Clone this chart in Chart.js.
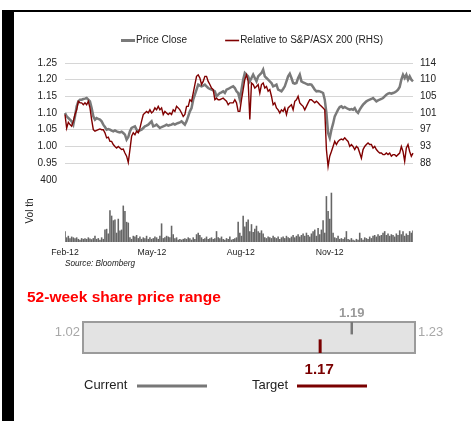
<!DOCTYPE html>
<html><head><meta charset="utf-8">
<script src="https://cdn.jsdelivr.net/npm/chart.js@4.4.1/dist/chart.umd.min.js"></script>
<style>
html,body{margin:0;padding:0;background:#fff;}
body{width:471px;height:421px;position:relative;overflow:hidden;font-family:"Liberation Sans",Arial,sans-serif;}
#c1{position:absolute;left:0;top:0;}
#c2{position:absolute;left:0;top:280px;}
.blk{position:absolute;background:#000;}
#h{position:absolute;left:27px;top:289px;font-weight:bold;font-size:15.5px;line-height:16px;color:#ff0000;white-space:nowrap;}
</style></head><body>
<canvas id="c1" width="471" height="280"></canvas>
<canvas id="c2" width="471" height="141"></canvas>
<div class="blk" style="left:2px;top:10px;width:12px;height:411px"></div>
<div class="blk" style="left:2px;top:10px;width:469px;height:2px"></div>
<div id="h">52-week share price range</div>
<script>
// ---- data ----
const sampleStepDays = 1.724;           // spacing of plotted samples, calendar days from 1 Feb 2012
const monthTickDays = [0, 90, 182, 274];
const monthTickLabels = ['Feb-12', 'May-12', 'Aug-12', 'Nov-12'];
const priceTicks = [0.95, 1.00, 1.05, 1.10, 1.15, 1.20, 1.25];
const rhsTickLabels = ['88', '93', '97', '101', '105', '110', '114'];
const volumeTicks = [400];

const price = [
1.100,1.090,1.085,1.080,1.075,1.065,1.090,1.120,1.135,1.140,
1.140,1.142,1.143,1.145,1.140,1.135,1.115,1.090,1.080,1.085,
1.082,1.080,1.075,1.065,1.058,1.050,1.052,1.050,1.047,1.045,
1.048,1.045,1.043,1.042,1.044,1.040,1.035,1.020,1.028,1.045,
1.055,1.058,1.060,1.050,1.045,1.048,1.050,1.055,1.060,1.062,
1.065,1.070,1.075,1.060,1.062,1.065,1.060,1.055,1.058,1.060,
1.062,1.065,1.062,1.064,1.065,1.068,1.065,1.068,1.070,1.072,
1.075,1.070,1.065,1.075,1.090,1.105,1.115,1.140,1.155,1.170,
1.185,1.182,1.180,1.182,1.185,1.180,1.175,1.172,1.170,1.168,
1.165,1.150,1.155,1.160,1.162,1.165,1.160,1.170,1.172,1.175,
1.178,1.180,1.175,1.165,1.160,1.140,1.170,1.200,1.220,1.215,
1.210,1.195,1.205,1.215,1.205,1.195,1.210,1.215,1.220,1.230,
1.210,1.205,1.200,1.195,1.190,1.180,1.182,1.185,1.170,1.168,
1.165,1.172,1.180,1.195,1.210,1.218,1.205,1.190,1.188,1.190,
1.205,1.215,1.195,1.192,1.190,1.187,1.185,1.186,1.185,1.178,
1.170,1.165,1.166,1.165,1.163,1.160,1.140,1.100,1.040,1.025,
1.050,1.068,1.090,1.100,1.110,1.118,1.120,1.115,1.118,1.115,
1.112,1.110,1.112,1.110,1.115,1.105,1.100,1.110,1.118,1.125,
1.130,1.135,1.138,1.140,1.142,1.145,1.140,1.135,1.138,1.140,
1.142,1.145,1.150,1.155,1.158,1.160,1.158,1.160,1.162,1.165,
1.170,1.178,1.200,1.215,1.205,1.215,1.200,1.210,1.200,1.195
];
const relative = [
100.7,97.2,98.7,98.1,97.7,99.0,100.7,101.9,104.1,103.7,
103.7,103.2,103.7,103.2,104.1,102.4,99.4,96.8,96.4,96.6,
96.8,97.0,96.8,96.8,96.0,94.7,94.9,93.8,93.8,93.0,
92.5,92.1,92.5,92.1,91.7,91.8,90.8,90.0,88.4,91.7,
95.1,96.0,95.5,96.4,96.0,97.2,99.0,100.7,101.1,101.5,
101.1,101.9,101.1,101.5,102.4,101.9,102.8,101.9,102.4,100.7,
101.5,101.1,100.7,101.1,100.7,101.9,101.5,102.8,102.4,101.9,
101.1,100.2,100.7,102.8,102.8,104.5,104.1,106.2,108.4,110.5,
110.9,110.1,108.4,109.2,110.5,110.5,109.2,108.4,107.5,107.1,
104.5,104.9,104.5,104.5,104.7,104.9,104.5,104.1,103.2,103.7,
103.7,103.7,104.5,103.7,101.5,101.5,104.5,107.1,109.7,110.9,
109.2,99.4,108.8,108.4,107.5,107.9,108.4,106.2,108.4,108.8,
107.5,107.9,106.7,107.1,105.4,103.2,103.7,102.4,101.9,101.1,
101.9,101.5,102.4,100.7,102.4,102.8,103.2,101.9,104.1,104.5,
105.4,103.7,103.2,102.8,101.9,102.8,103.7,104.5,104.5,104.1,
103.7,104.1,103.7,103.2,102.8,102.4,101.9,91.7,87.4,90.0,
91.2,92.5,93.8,93.0,93.8,94.2,94.4,94.2,94.7,94.2,
93.8,92.5,93.0,92.5,91.7,92.5,92.1,90.8,89.5,91.7,
92.5,93.0,93.4,93.0,93.0,92.1,92.5,91.7,91.2,90.8,
90.8,90.4,90.4,90.8,90.4,90.8,90.0,90.4,90.4,90.0,
90.4,90.8,92.5,91.2,88.7,92.1,93.0,91.2,90.0,90.8
];
const volume = [
70,30,40,25,35,30,25,30,20,15,
25,20,25,20,30,22,18,25,40,20,
25,15,30,20,80,85,55,205,170,140,
145,60,150,75,80,235,200,130,125,30,
20,40,35,45,25,35,20,30,25,40,
20,30,20,25,35,30,20,40,120,25,
30,40,35,30,105,50,25,30,15,20,
15,20,25,20,30,25,15,30,20,50,
60,45,30,20,25,35,20,25,30,20,
25,70,30,25,35,20,15,25,20,35,
15,20,25,30,130,60,40,170,100,130,
145,70,115,65,85,105,70,60,75,55,
30,25,35,30,25,40,30,25,35,20,
30,35,25,40,30,25,35,45,30,40,
50,35,45,55,40,60,45,35,55,70,
80,40,90,50,80,140,60,296,200,150,
318,60,30,25,40,20,25,20,30,70,
20,15,25,15,10,20,15,60,25,15,
30,25,20,35,25,40,45,35,50,40,
45,60,70,45,55,40,50,45,35,55,
45,75,50,70,40,55,45,70,60,75
];

const rangeLow = 1.02;
const rangeHigh = 1.23;
const currentPrice = 1.19;
const targetPrice = 1.17;

// ---- axis ranges ----
const priceMin = 0.899, priceMax = 1.25;
const rhsMin = 83.88, rhsMax = 113.93;
const toRhs = p => rhsMin + (p - priceMin) / (priceMax - priceMin) * (rhsMax - rhsMin);

const days = price.map((_, i) => +(i * sampleStepDays).toFixed(3));
const FONT = '"Liberation Sans", Arial, sans-serif';
Chart.defaults.font.family = FONT;
Chart.defaults.color = '#222';

const topLegend = {
  id: 'topLegend',
  afterDraw(chart, args, opts) {
    const ctx = chart.ctx;
    ctx.save();
    ctx.font = '10px ' + FONT;
    ctx.textBaseline = 'middle';
    ctx.textAlign = 'left';
    let x = opts.x;
    chart.data.datasets.forEach(ds => {
      if (!ds.label) return;
      ctx.strokeStyle = ds.borderColor;
      ctx.lineWidth = ds.legendLineWidth || ds.borderWidth;
      ctx.beginPath(); ctx.moveTo(x, opts.y); ctx.lineTo(x + 14, opts.y); ctx.stroke();
      ctx.fillStyle = '#222';
      ctx.fillText(ds.label, x + 15, opts.y);
      x += 15 + ctx.measureText(ds.label).width + opts.gap;
    });
    ctx.restore();
  }
};

new Chart(document.getElementById('c1'), {
  type: 'line',
  data: {
    datasets: [
      { label: 'Price Close', data: days.map((d, i) => ({x: d, y: price[i]})),
        yAxisID: 'y', borderColor: '#7a7a7a', borderWidth: 2.5, pointRadius: 0, tension: 0, order: 1, legendLineWidth: 3 },
      { label: 'Relative to S&P/ASX 200 (RHS)', data: days.map((d, i) => ({x: d, y: relative[i]})),
        yAxisID: 'y2', borderColor: '#800000', borderWidth: 1.4, pointRadius: 0, tension: 0, order: 0, legendLineWidth: 1.6 },
      { type: 'bar', label: '', data: days.map((d, i) => ({x: d, y: volume[i]})),
        yAxisID: 'yv', backgroundColor: '#666666', barPercentage: 0.95, categoryPercentage: 1, order: 2 }
    ]
  },
  options: {
    responsive: false, animation: false,
    layout: { padding: { left: 20, right: 18, top: 63, bottom: 7 } },
    plugins: {
      legend: { display: false }, tooltip: { enabled: false },
      topLegend: { x: 121, y: 40.5, gap: 38 }
    },
    datasets: { line: { clip: false } },
    scales: {
      x: {
        type: 'linear', min: 0, max: days[days.length - 1], offset: false,
        grid: { display: false, drawTicks: false }, border: { display: false },
        afterBuildTicks: s => { s.ticks = monthTickDays.map(v => ({value: v})); },
        afterFit: s => { s.height = 31; },
        ticks: { callback: (v, i) => monthTickLabels[i], font: { size: 8.7 }, color: '#222', padding: 5, maxRotation: 0, autoSkip: false },
        title: { display: true, text: 'Source: Bloomberg', align: 'start', color: '#222',
                 font: { size: 8.2, style: 'italic' }, padding: { top: 2, bottom: 4 } }
      },
      yv: {
        type: 'linear', position: 'left', stack: 'left', stackWeight: 62, min: 0, max: 400,
        afterBuildTicks: s => { s.ticks = volumeTicks.map(v => ({value: v})); },
        afterFit: s => { s.width = 45; },
        ticks: { padding: 8, font: { size: 10 }, color: '#222', autoSkip: false },
        grid: { display: false, drawTicks: false }, border: { display: false },
        title: { display: true, text: 'Vol th', font: { size: 10 }, color: '#222' }
      },
      y: {
        type: 'linear', position: 'left', stack: 'left', stackWeight: 117, min: priceMin, max: priceMax,
        afterBuildTicks: s => { s.ticks = priceTicks.map(v => ({value: v})); },
        afterFit: s => { s.width = 45; },
        ticks: { callback: v => v.toFixed(2), padding: 8, font: { size: 10 }, color: '#222', autoSkip: false },
        grid: { color: '#d6d6d6', lineWidth: 1, drawTicks: false }, border: { display: false }
      },
      y2: {
        type: 'linear', position: 'right', stack: 'right', stackWeight: 117, min: rhsMin, max: rhsMax,
        afterBuildTicks: s => { s.ticks = priceTicks.map(p => ({value: toRhs(p)})); },
        afterFit: s => { s.width = 40; },
        ticks: { callback: (v, i) => rhsTickLabels[i], padding: 7, font: { size: 10 }, color: '#222', autoSkip: false },
        grid: { display: false, drawTicks: false }, border: { display: false }
      },
      y2v: {
        type: 'linear', position: 'right', stack: 'right', stackWeight: 62, min: 0, max: 1,
        afterFit: s => { s.width = 40; },
        ticks: { display: false }, grid: { display: false, drawTicks: false }, border: { display: false }
      }
    }
  },
  plugins: [topLegend]
});

// ---- 52-week range panel ----
const rangePanel = {
  id: 'rangePanel',
  beforeDatasetsDraw(chart) {
    const {ctx, chartArea: a, scales: {x}} = chart;
    const l = x.getPixelForValue(rangeLow), r = x.getPixelForValue(rangeHigh);
    ctx.save();
    ctx.fillStyle = '#e3e3e3';
    ctx.fillRect(l, a.top, r - l, a.bottom - a.top);
    ctx.strokeStyle = '#9b9b9b'; ctx.lineWidth = 2;
    ctx.strokeRect(l, a.top, r - l, a.bottom - a.top);
    ctx.font = '13px ' + FONT; ctx.fillStyle = '#a8a8a8'; ctx.textBaseline = 'middle';
    ctx.textAlign = 'right'; ctx.fillText(rangeLow.toFixed(2), l - 3, 52);
    ctx.textAlign = 'left'; ctx.fillText(rangeHigh.toFixed(2), r + 3, 52);
    ctx.restore();
  },
  afterDraw(chart) {
    const {ctx, scales: {x}} = chart;
    ctx.save();
    ctx.textBaseline = 'middle'; ctx.textAlign = 'center';
    ctx.font = 'bold 13px ' + FONT; ctx.fillStyle = '#9a9a9a';
    ctx.fillText(currentPrice.toFixed(2), x.getPixelForValue(currentPrice), 33);
    ctx.font = 'bold 15px ' + FONT; ctx.fillStyle = '#7a0000';
    ctx.fillText(targetPrice.toFixed(2), x.getPixelForValue(targetPrice) - 1, 89.5);
    // legend
    ctx.font = '13px ' + FONT; ctx.fillStyle = '#222'; ctx.textAlign = 'left';
    const items = [
      { text: 'Current', tx: 84, lx: 137, color: '#777777' },
      { text: 'Target', tx: 252, lx: 297, color: '#7a0000' }
    ];
    items.forEach(it => {
      ctx.fillText(it.text, it.tx, 105);
      ctx.strokeStyle = it.color; ctx.lineWidth = 3;
      ctx.beginPath(); ctx.moveTo(it.lx, 106); ctx.lineTo(it.lx + 70, 106); ctx.stroke();
    });
    ctx.restore();
  }
};

new Chart(document.getElementById('c2'), {
  type: 'scatter',
  data: {
    datasets: [
      { label: 'Current', data: [{x: currentPrice, y: 0.8}], pointStyle: 'line', pointRotation: 90,
        pointRadius: 6.2, pointBorderColor: '#777777', pointBorderWidth: 2.5, borderColor: '#777777', clip: false },
      { label: 'Target', data: [{x: targetPrice, y: 0.22}], pointStyle: 'line', pointRotation: 90,
        pointRadius: 6.8, pointBorderColor: '#7a0000', pointBorderWidth: 3, borderColor: '#7a0000', clip: false }
    ]
  },
  options: {
    responsive: false, animation: false,
    layout: { padding: { left: 83, right: 56, top: 42, bottom: 68 } },
    plugins: { legend: { display: false }, tooltip: { enabled: false } },
    scales: {
      x: { type: 'linear', min: rangeLow, max: rangeHigh, display: false },
      y: { type: 'linear', min: 0, max: 1, display: false }
    }
  },
  plugins: [rangePanel]
});
</script>
</body></html>
